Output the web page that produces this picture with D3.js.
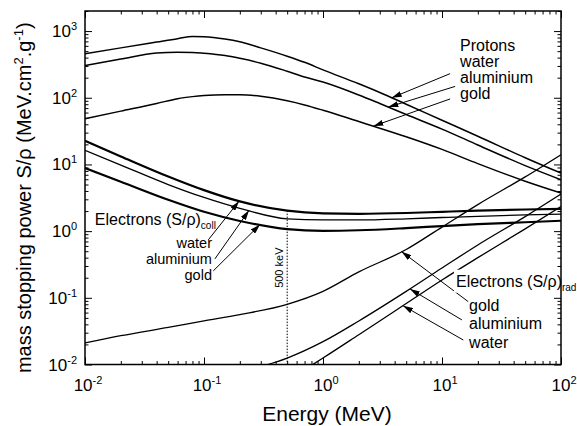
<!DOCTYPE html>
<html>
<head>
<meta charset="utf-8">
<script src="https://cdn.jsdelivr.net/npm/d3@7"></script>
<style>
  body { margin: 0; background: #fff; }
  text { font-family: "Liberation Sans", Arial, sans-serif; fill: #000; }
</style>
</head>
<body>
<div id="chart"></div>
<script>
// ---- data (MeV, MeV.cm2/g) ----
const protonEnergy = [0.01, 0.02, 0.04, 0.06, 0.08, 0.1, 0.15, 0.2, 0.3, 0.5, 0.7, 1, 2, 3, 5, 10, 20, 50, 100];
const protonWater  = [455, 560, 685, 770, 828, 822, 760, 690, 560, 420, 340, 262, 162, 120, 80, 46, 26.5, 12.6, 7.4];
const protonAl     = [303, 380, 468, 480, 478, 465, 430, 390, 330, 250, 205, 172, 110, 82, 56, 33.9, 19.6, 9.6, 5.9];
const protonAu     = [48.5, 63, 82, 97, 104, 108, 111, 111, 105, 90, 78, 65, 44, 35, 26, 16.8, 10.3, 5.6, 3.72];

const elecEnergy   = [0.01, 0.02, 0.05, 0.1, 0.2, 0.5, 1, 2, 5, 10, 20, 50, 100];
const collWater    = [22.6, 13.2, 6.6, 4.12, 2.79, 2.03, 1.85, 1.82, 1.87, 1.95, 2.03, 2.11, 2.15];
const collAl       = [16.3, 9.8, 5.0, 3.2, 2.2, 1.53, 1.47, 1.47, 1.53, 1.60, 1.67, 1.75, 1.80];
const collAu       = [8.8, 5.5, 2.95, 1.95, 1.42, 1.07, 1.01, 1.03, 1.11, 1.19, 1.27, 1.36, 1.43];

const radAu        = [0.021, 0.027, 0.036, 0.045, 0.056, 0.080, 0.125, 0.245, 0.53, 1.15, 2.5, 6.5, 14];
const radAlEnergy  = [0.3, 0.5, 1, 2, 5, 10, 20, 50, 100];
const radAl        = [0.0093, 0.0125, 0.022, 0.045, 0.125, 0.28, 0.62, 1.65, 3.6];
const radWaterEnergy = [0.8, 1, 2, 5, 10, 20, 50, 100];
const radWater     = [0.0097, 0.0125, 0.028, 0.082, 0.185, 0.40, 1.08, 2.34];

const xMajor = [1e-2, 1e-1, 1e0, 1e1, 1e2];
const yMajor = [1e-2, 1e-1, 1e0, 1e1, 1e2, 1e3];

const width = 577, height = 426;
const margin = {top: 11, right: 16, bottom: 62, left: 85};

let svg = d3.select("#chart")
            .append("svg")
            .attr("width", width)
            .attr("height", height);

let x = d3.scaleLog()
          .domain([1e-2, 1e2])
          .range([margin.left, width - margin.right]);

let y = d3.scaleLog()
          .domain([1e-2, 2e3])
          .range([height - margin.bottom + 0.5, margin.top]);

const isMajor = v => Math.abs(Math.log10(v) - Math.round(Math.log10(v))) < 1e-9;
const xMinor = x.ticks().filter(v => !isMajor(v));
const yMinor = y.ticks().filter(v => !isMajor(v));

// ---- ticks, all pointing inwards ----
function tickAxis(axisFn, scale, values, size, transform) {
  svg.append("g")
     .attr("transform", transform)
     .call(axisFn(scale).tickValues(values).tickSize(-size).tickFormat(""))
     .call(g => g.select(".domain").remove())
     .selectAll(".tick line").attr("stroke", "#000");
}
const x0 = x.range()[0], x1 = x.range()[1], y0 = y.range()[0], y1 = y.range()[1];
tickAxis(d3.axisBottom, x, xMajor, 7, `translate(0,${y0})`);
tickAxis(d3.axisBottom, x, xMinor, 3.5, `translate(0,${y0})`);
tickAxis(d3.axisTop, x, xMajor, 7, `translate(0,${y1})`);
tickAxis(d3.axisTop, x, xMinor, 3.5, `translate(0,${y1})`);
tickAxis(d3.axisLeft, y, yMajor, 7, `translate(${x0},0)`);
tickAxis(d3.axisLeft, y, yMinor, 3.5, `translate(${x0},0)`);
tickAxis(d3.axisRight, y, yMajor, 7, `translate(${x1},0)`);
tickAxis(d3.axisRight, y, yMinor, 3.5, `translate(${x1},0)`);

// tick labels 10^n
function powLabel(sel) {
  sel.append("tspan").text("10");
  sel.append("tspan")
     .attr("dy", -7)
     .style("font-size", "11px")
     .text(d => Math.round(Math.log10(d)));
}
svg.selectAll("text.xTick")
   .data(xMajor)
   .enter()
   .append("text")
   .attr("class", "xTick")
   .attr("x", d => x(d) + 3)
   .attr("y", y0 + 26)
   .style("font-size", "17px")
   .style("text-anchor", "middle")
   .call(powLabel);

svg.selectAll("text.yTick")
   .data(yMajor)
   .enter()
   .append("text")
   .attr("class", "yTick")
   .attr("x", x0 - 8)
   .attr("y", d => y(d) + 6)
   .style("font-size", "17px")
   .style("text-anchor", "end")
   .call(powLabel);

// axis titles
svg.append("text")
   .attr("x", (x0 + x1) / 2 + 4)
   .attr("y", height - 5)
   .style("font-size", "21px")
   .style("text-anchor", "middle")
   .text("Energy (MeV)");

let yTitle = svg.append("text")
   .attr("transform", `translate(31,${(y0 + y1) / 2 + 10}) rotate(-90)`)
   .style("font-size", "20px")
   .style("text-anchor", "middle");
yTitle.append("tspan").text("mass stopping power S/\u03c1 (MeV.cm");
yTitle.append("tspan").attr("dy", -8).style("font-size", "13px").text("2");
yTitle.append("tspan").attr("dy", 8).text(".g");
yTitle.append("tspan").attr("dy", -8).style("font-size", "13px").text("-1");
yTitle.append("tspan").attr("dy", 8).text(")");

// ---- curves ----
svg.append("clipPath")
   .attr("id", "plotClip")
   .append("rect")
   .attr("x", x0).attr("y", y1)
   .attr("width", x1 - x0).attr("height", y0 - y1);

const series = [
  {name: "pWater", e: protonEnergy, v: protonWater, w: 1.5},
  {name: "pAl",    e: protonEnergy, v: protonAl,    w: 1.5},
  {name: "pAu",    e: protonEnergy, v: protonAu,    w: 1.5},
  {name: "cWater", e: elecEnergy,   v: collWater,   w: 2.2},
  {name: "cAl",    e: elecEnergy,   v: collAl,      w: 1.3},
  {name: "cAu",    e: elecEnergy,   v: collAu,      w: 2.2},
  {name: "rAu",    e: elecEnergy,   v: radAu,       w: 1.3},
  {name: "rAl",    e: radAlEnergy,  v: radAl,       w: 1.3},
  {name: "rWater", e: radWaterEnergy, v: radWater,  w: 1.3}
];
series.forEach(s => s.pts = s.e.map((e, i) => [e, s.v[i]]));
const byName = {};
series.forEach(s => byName[s.name] = s);

let line = d3.line()
             .x(d => x(d[0]))
             .y(d => y(d[1]))
             .curve(d3.curveMonotoneX);

let curves = svg.append("g").attr("clip-path", "url(#plotClip)");
curves.selectAll("path")
      .data(series)
      .enter()
      .append("path")
      .attr("d", d => line(d.pts))
      .attr("fill", "none")
      .attr("stroke", "#000")
      .attr("stroke-width", d => d.w);

// value of a series at energy e (log-log interpolation)
function valueAt(name, e) {
  const p = byName[name].pts;
  for (let i = 0; i < p.length - 1; i++) {
    if (e >= p[i][0] && e <= p[i + 1][0]) {
      const t = Math.log(e / p[i][0]) / Math.log(p[i + 1][0] / p[i][0]);
      return p[i][1] * Math.pow(p[i + 1][1] / p[i][1], t);
    }
  }
  return p[p.length - 1][1];
}

// 500 keV marker
svg.append("line")
   .attr("x1", x(0.5)).attr("x2", x(0.5))
   .attr("y1", y(valueAt("cWater", 0.5))).attr("y2", y0)
   .attr("stroke", "#000")
   .attr("stroke-width", 1)
   .attr("stroke-dasharray", "1.5,1.5");
svg.append("text")
   .attr("transform", `translate(${x(0.5) - 4},${y(0.141)}) rotate(-90)`)
   .style("font-size", "11px")
   .text("500 keV");

// ---- annotations ----
svg.append("defs")
   .append("marker")
   .attr("id", "arrow")
   .attr("viewBox", "0 0 10 6")
   .attr("refX", 10).attr("refY", 3)
   .attr("markerWidth", 10).attr("markerHeight", 6)
   .attr("markerUnits", "userSpaceOnUse")
   .attr("orient", "auto")
   .append("path")
   .attr("d", "M0,0 L10,3 L0,6 Z")
   .attr("fill", "#000");

// tail [energy, value] -> tip on series at energy
const arrows = [
  {tail: [11.7, 230],    series: "pWater", at: 3.78},
  {tail: [12.9, 148],    series: "pAl",    at: 3.54},
  {tail: [11.7, 96],     series: "pAu",    at: 2.65},
  {tail: [0.1087, 0.74], series: "cWater", at: 0.197},
  {tail: [0.1236, 0.384], series: "cAl",   at: 0.239},
  {tail: [0.1197, 0.2535], series: "cAu",  at: 0.296},
  {tail: [16.6, 0.0877], series: "rAu",    at: 4.58},
  {tail: [14.7, 0.0466], series: "rAl",    at: 5.38},
  {tail: [15.1, 0.0233], series: "rWater", at: 4.70}
];

svg.selectAll("line.arrow")
   .data(arrows)
   .enter()
   .append("line")
   .attr("class", "arrow")
   .attr("x1", d => x(d.tail[0]))
   .attr("y1", d => y(d.tail[1]))
   .attr("x2", d => x(d.at))
   .attr("y2", d => y(valueAt(d.series, d.at)))
   .attr("stroke", "#000")
   .attr("stroke-width", 1)
   .attr("marker-end", "url(#arrow)");

const labelSize = "16px";

// Protons block
const protonLabels = ["Protons", "water", "aluminium", "gold"];
svg.selectAll("text.pLabel")
   .data(protonLabels)
   .enter()
   .append("text")
   .attr("class", "pLabel")
   .attr("x", x(14.2))
   .attr("y", (d, i) => y(498) + i * 16)
   .style("font-size", labelSize)
   .text(d => d);

// Electrons collision block
let collTitle = svg.append("text")
   .attr("x", x(0.0121))
   .attr("y", y(1.24))
   .style("font-size", labelSize);
collTitle.append("tspan").text("Electrons (S/\u03c1)");
collTitle.append("tspan").attr("dy", 4).style("font-size", "10px").text("coll");

const collLabels = ["water", "aluminium", "gold"];
svg.selectAll("text.cLabel")
   .data(collLabels)
   .enter()
   .append("text")
   .attr("class", "cLabel")
   .attr("x", x(0.1167))
   .attr("y", (d, i) => y(1.24) + 23 + i * 16)
   .style("font-size", "14.5px")
   .style("text-anchor", "end")
   .text(d => d);

// Electrons radiative block (white box knocks out the line behind it)
let radTitleG = svg.append("g");
let radTitle = radTitleG.append("text")
   .attr("x", x(13.1))
   .attr("y", y(0.147))
   .style("font-size", labelSize);
radTitle.append("tspan").text("Electrons (S/\u03c1)");
radTitle.append("tspan").attr("dy", 4).style("font-size", "10px").text("rad");
const bb = radTitle.node().getBBox();
radTitleG.insert("rect", "text")
   .attr("x", bb.x - 2).attr("y", bb.y - 3)
   .attr("width", bb.width + 2).attr("height", bb.height + 3)
   .attr("fill", "#fff");

const radLabels = ["gold", "aluminium", "water"];
svg.selectAll("text.rLabel")
   .data(radLabels)
   .enter()
   .append("text")
   .attr("class", "rLabel")
   .attr("x", x(16.9))
   .attr("y", (d, i) => y(0.147) + 24 + i * 18.5)
   .style("font-size", labelSize)
   .text(d => d);

// frame
svg.append("rect")
   .attr("x", x0).attr("y", y1)
   .attr("width", x1 - x0).attr("height", y0 - y1)
   .attr("fill", "none")
   .attr("stroke", "#000")
   .attr("stroke-width", 1.5);
</script>
</body>
</html>
